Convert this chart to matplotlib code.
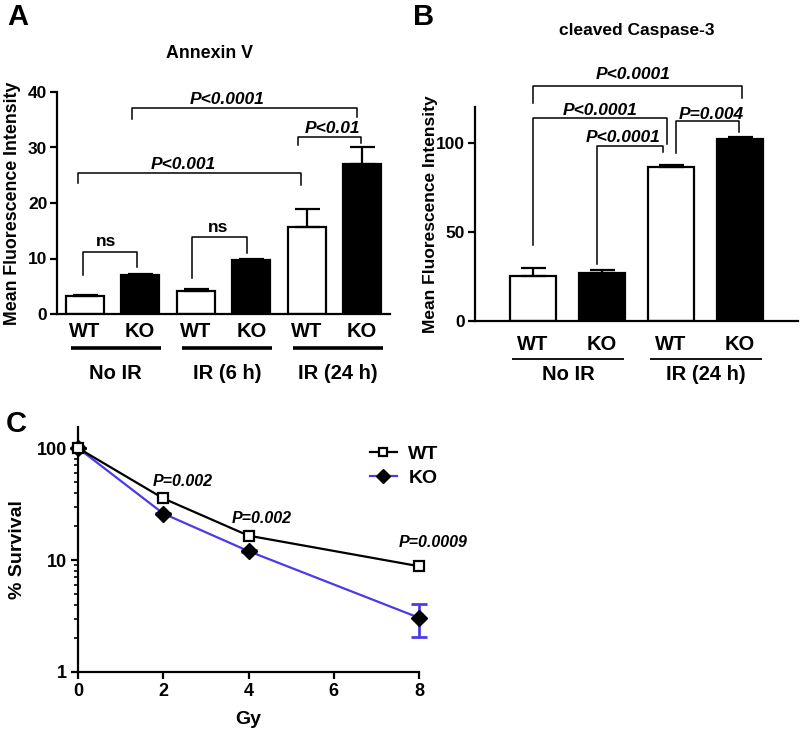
import matplotlib
matplotlib.use("Agg")
import matplotlib.pyplot as plt
import numpy as np
from matplotlib.lines import Line2D

plt.rcParams['font.family'] = ['Liberation Sans', 'DejaVu Sans']
plt.rcParams['font.weight'] = 'bold'
plt.rcParams['axes.labelweight'] = 'bold'
plt.rcParams['axes.linewidth'] = 1.6

# ---------------- data ----------------
# Panel A: Annexin V
a_groups = ["No IR", "IR (6 h)", "IR (24 h)"]
a_genotypes = ["WT", "KO", "WT", "KO", "WT", "KO"]
a_means = [3.3, 7.0, 4.2, 9.7, 15.6, 27.0]
a_sem = [0.2, 0.2, 0.3, 0.3, 3.4, 3.0]

# Panel B: cleaved Caspase-3
b_groups = ["No IR", "IR (24 h)"]
b_genotypes = ["WT", "KO", "WT", "KO"]
b_means = [25.5, 27.0, 86.5, 102.0]
b_sem = [4.0, 1.8, 1.0, 1.0]

# Panel C: survival
c_dose = [0, 2, 4, 8]
c_wt = [100, 35.5, 16.5, 8.8]
c_wt_err = [0.0, 0.5, 0.3, 0.2]
c_ko = [100, 26.0, 12.0, 3.05]
c_ko_err = [0.0, 0.4, 0.3, 1.0]
c_pvals = ["P=0.002", "P=0.002", "P=0.0009"]

W, H = 800, 733
fig = plt.figure(figsize=(W / 100, H / 100), dpi=100)


def ax_px(l, t, r, b):
    return fig.add_axes([l / W, 1 - b / H, (r - l) / W, (b - t) / H])


def bars(ax, means, sem, width):
    x = np.arange(len(means))
    colors = ['white' if i % 2 == 0 else 'black' for i in range(len(means))]
    ax.bar(x, means, width=width, color=colors, edgecolor='black', linewidth=1.6, zorder=2)
    ax.errorbar(x, means, yerr=[np.zeros(len(means)), sem], fmt='none', ecolor='black',
                elinewidth=1.6, capsize=9, capthick=1.6, zorder=3)
    return x


def bracket(ax, x1, x2, y, y1, y2, text, tx, ty, italic=True):
    ax.plot([x1, x1, x2, x2], [y1, y, y, y2], color='black', lw=1.1, clip_on=False, zorder=4)
    ax.text(tx, ty, text, ha='center', va='center', fontsize=12.5, fontweight='bold',
            style='italic' if italic else 'normal', clip_on=False, zorder=5)


# ---------------- Panel A ----------------
axA = ax_px(57, 92, 390, 314)
xa = bars(axA, a_means, a_sem, 0.68)
axA.set_xlim(-0.5, 5.5)
axA.set_ylim(0, 40)
axA.set_yticks([0, 10, 20, 30, 40])
axA.tick_params(axis='y', labelsize=12.5, width=1.6, length=5, pad=2)
axA.set_xticks(xa)
axA.set_xticklabels(a_genotypes, fontsize=14.5)
axA.tick_params(axis='x', length=0, pad=6)
axA.spines['top'].set_visible(False)
axA.spines['right'].set_visible(False)
axA.set_ylabel("Mean Fluorescence Intensity", fontsize=12.8, labelpad=5)
fig.text(210 / W, 1 - 53 / H, "Annexin V", ha='center', va='center',
         fontsize=12.8, fontweight='bold')
for g, name in enumerate(a_groups):
    s, e = xa[2 * g] - 0.25, xa[2 * g + 1] + 0.37
    axA.plot([s, e], [-0.153 * 40] * 2, color='black', lw=2.6, clip_on=False,
             solid_capstyle='butt')
    axA.text((s + e) / 2, -0.266 * 40, name, ha='center', va='center', fontsize=14.5)

bracket(axA, -0.04, 0.95, 11.2, 7.0, 8.5, "ns", 0.39, 13.0, italic=False)
bracket(axA, 1.94, 2.92, 13.9, 6.5, 11.0, "ns", 2.40, 15.5, italic=False)
bracket(axA, -0.12, 3.90, 25.4, 23.6, 23.2, "P<0.001", 1.77, 27.0)
bracket(axA, 0.86, 4.90, 37.1, 35.1, 35.5, "P<0.0001", 2.57, 38.7)
bracket(axA, 3.85, 4.98, 31.9, 30.4, 30.8, "P<0.01", 4.47, 33.5)

# ---------------- Panel B ----------------
axB = ax_px(475, 107, 798, 321)
xb = bars(axB, b_means, b_sem, 0.67)
axB.set_xlim(-0.84, 3.84)
axB.set_ylim(0, 120)
axB.set_yticks([0, 50, 100])
axB.tick_params(axis='y', labelsize=12.5, width=1.6, length=5, pad=2)
axB.set_xticks(xb)
axB.set_xticklabels(b_genotypes, fontsize=14.5)
axB.tick_params(axis='x', length=0, pad=10)
axB.spines['top'].set_visible(False)
axB.spines['right'].set_visible(False)
axB.set_ylabel("Mean Fluorescence Intensity", fontsize=12.5, labelpad=-1)
for g, name in enumerate(b_groups):
    s, e = xb[2 * g] - 0.30, xb[2 * g + 1] + 0.32
    axB.plot([s, e], [-0.178 * 120] * 2, color='black', lw=1.3, clip_on=False,
             solid_capstyle='butt')
    axB.text((s + e) / 2, -0.25 * 120, name, ha='center', va='center', fontsize=14.5)
fig.text(637 / W, 1 - 30 / H, "cleaved Caspase-3", ha='center', va='center',
         fontsize=12.5, fontweight='bold')

bracket(axB, 0.0, 3.03, 132, 122, 125, "P<0.0001", 1.45, 138)
bracket(axB, 0.0, 1.94, 114, 42.5, 99, "P<0.0001", 0.97, 118)
bracket(axB, 0.93, 1.88, 98, 32, 94.5, "P<0.0001", 1.30, 103)
bracket(axB, 2.07, 2.99, 112, 94, 106, "P=0.004", 2.59, 116)

# ---------------- Panel C ----------------
axC = ax_px(78, 427, 419, 672)
axC.set_yscale('log')
ko_color = '#4b3be6'
axC.errorbar(c_dose, c_ko, yerr=c_ko_err, color=ko_color, lw=1.6, marker='D',
             markersize=8, markerfacecolor='black', markeredgecolor='black',
             ecolor=ko_color, elinewidth=2, capsize=6, capthick=2, clip_on=False,
             zorder=3)
axC.errorbar(c_dose, c_wt, yerr=c_wt_err, color='black', lw=1.6, marker='s',
             markersize=7, markerfacecolor='white', markeredgecolor='black',
             markeredgewidth=1.6, capsize=0, clip_on=False, zorder=4)
axC.set_xlim(0, 8)
axC.set_ylim(1, 154)
axC.set_xticks([0, 2, 4, 6, 8])
axC.set_yticks([1, 10, 100])
axC.set_yticklabels(["1", "10", "100"])
axC.tick_params(axis='both', labelsize=13, width=1.6, length=5, pad=3)
axC.tick_params(axis='y', which='minor', width=1.2, length=3)
axC.spines['top'].set_visible(False)
axC.spines['right'].set_visible(False)
axC.set_ylabel("% Survival", fontsize=14, labelpad=8)
axC.set_xlabel("Gy", fontsize=14, labelpad=8)
for xp, yp, t in zip([2.46, 4.3, 8.34], [50, 23.7, 14.2], c_pvals):
    axC.text(xp, yp, t, ha='center', va='center', fontsize=11.5, fontweight='bold',
             style='italic', clip_on=False)

h_wt = Line2D([], [], color='black', lw=1.6, marker='s', markersize=6,
              markerfacecolor='white', markeredgecolor='black', markeredgewidth=1.6)
h_ko = Line2D([], [], color=ko_color, lw=1.6, marker='D', markersize=7,
              markerfacecolor='black', markeredgecolor='black')
axC.legend([h_wt, h_ko], ["WT", "KO"], loc='upper left', frameon=False,
           fontsize=14, handlelength=1.4, handletextpad=0.6, labelspacing=0.3,
           bbox_to_anchor=(352 / W, 1 - 428 / H), bbox_transform=fig.transFigure)

# panel letters
fig.text(7 / W, 1 - 17 / H, "A", fontsize=21, fontweight='bold', va='center')
fig.text(413 / W, 1 - 17 / H, "B", fontsize=21, fontweight='bold', va='center')
fig.text(6 / W, 1 - 424 / H, "C", fontsize=21, fontweight='bold', va='center')

fig.savefig("out.png", dpi=100)
